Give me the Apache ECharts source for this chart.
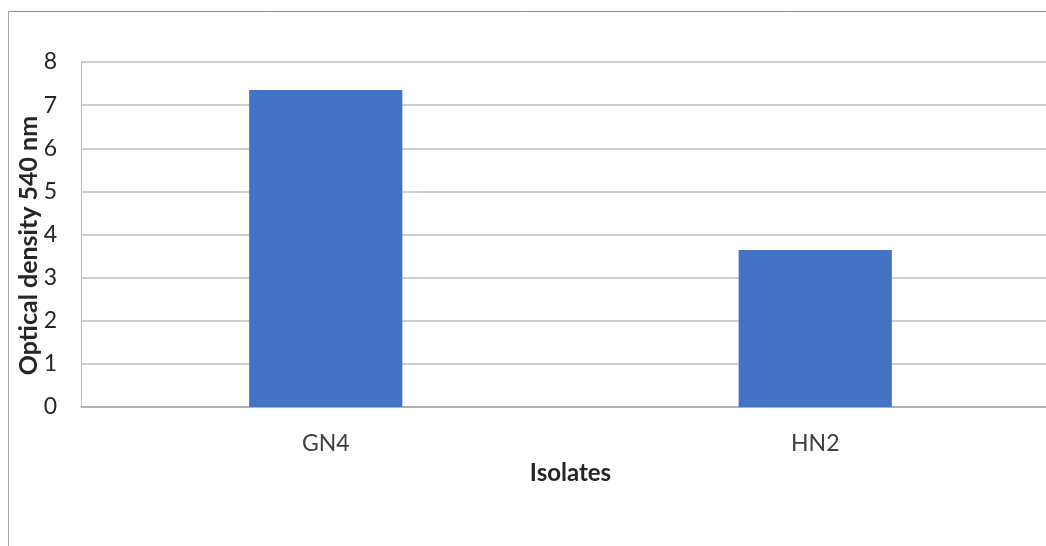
<!DOCTYPE html>
<html><head><meta charset="utf-8">
<script src="https://cdn.jsdelivr.net/npm/echarts@6/dist/echarts.min.js"></script>
<style>html,body{margin:0;padding:0;background:#fff}#c{width:1046px;height:546px}</style>
</head><body><div id="c"></div>
<script>
const categories = ['GN4', 'HN2'];
const values = [7.35, 3.64];
const yTicks = { min: 0, max: 8, interval: 1 };
const xTitle = 'Isolates';
const yTitle = 'Optical density 540 nm';

const chart = echarts.init(document.getElementById('c'));
const font = 'Lato, "Open Sans", sans-serif';
chart.setOption({
  animation: false,
  backgroundColor: '#ffffff',
  graphic: [
    { type: 'line', shape: { x1: 8.5, y1: 11.5, x2: 1046, y2: 11.5 }, style: { stroke: '#8c8c8c', lineWidth: 1 } },
    { type: 'line', shape: { x1: 8.5, y1: 11.5, x2: 8.5, y2: 546 }, style: { stroke: '#a6a6a6', lineWidth: 1 } }
  ],
  grid: { left: 81, top: 62, width: 979, height: 345, outerBoundsMode: 'none', containLabel: false },
  xAxis: {
    type: 'category', data: categories,
    name: xTitle, nameLocation: 'middle', nameGap: 54, nameMoveOverlap: false,
    nameTextStyle: { fontFamily: font, fontWeight: 'bold', fontSize: 24, color: '#262626' },
    axisLine: { lineStyle: { color: '#a6a6a6', width: 1.5 } },
    axisTick: { show: false },
    axisLabel: { fontFamily: font, fontSize: 23, color: '#404040', margin: 25 }
  },
  yAxis: {
    type: 'value', min: yTicks.min, max: yTicks.max, interval: yTicks.interval,
    name: yTitle, nameLocation: 'middle', nameGap: 40, nameRotate: 90, nameMoveOverlap: false,
    nameTextStyle: { fontFamily: font, fontWeight: 'bold', fontSize: 25, color: '#262626', padding: [0, 22, 0, 0] },
    axisLine: { show: true, lineStyle: { color: '#bfbfbf', width: 1 } },
    axisTick: { show: false },
    splitLine: { lineStyle: { color: '#bfbfbf', width: 1.5 } },
    axisLabel: { fontFamily: font, fontSize: 23, color: '#262626', margin: 24 }
  },
  series: [{
    type: 'bar', data: values, barWidth: '31.3%',
    itemStyle: { color: '#4472c4' }
  }]
});
</script></body></html>
